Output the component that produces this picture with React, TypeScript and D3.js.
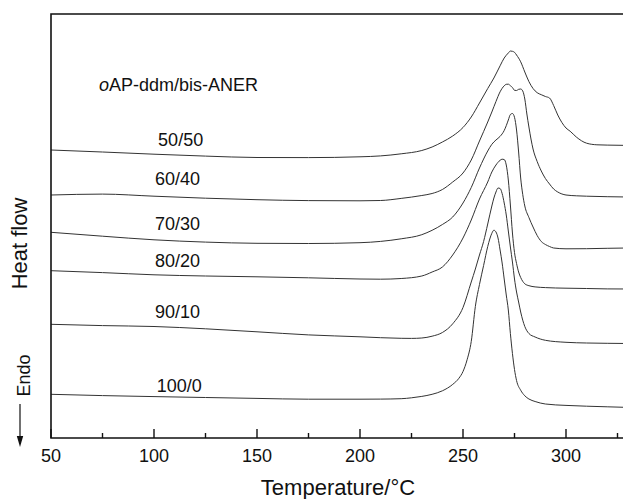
import React from "react";
import * as d3 from "d3";

// Temperature (°C) vs. heat flow (arbitrary units, exo up)
const curve50_50: [number, number][] = [
  [50, 288], [75, 286], [100, 283.8], [125, 281.9], [150, 280.5], [175, 280.4], [200, 281.2],
  [210, 282.1], [220, 284.2], [230, 287.5], [235, 291], [240, 296], [245, 302], [250, 310.5],
  [254, 321], [258, 335], [262, 349.5], [265, 360], [268, 372.2], [270, 380], [272, 385],
  [273, 387], [274, 386.7], [275, 385.7], [276, 383], [278, 376.2], [280, 366], [282, 356.4],
  [284, 349.5], [286, 345.3], [288, 343.3], [290, 341.5], [292, 340], [294, 332.5], [296, 323],
  [298, 315.5], [300, 310], [302, 306.8], [305, 301], [310, 294.8], [315, 293.2], [320, 292.9],
  [330, 292.6],
];
const curve60_40: [number, number][] = [
  [50, 243], [75, 243.9], [100, 241.8], [125, 239.8], [150, 238.3], [175, 237.4], [200, 237.2],
  [210, 237.5], [220, 239.6], [230, 242.5], [235, 244.5], [240, 248.5], [245, 256], [250, 265],
  [254, 278], [258, 297], [262, 316], [264, 326], [266, 336.5], [268, 346.2], [270, 352.2],
  [271, 353.7], [272, 353.8], [273, 352.3], [274, 350.5], [275, 347.7], [276, 347.5],
  [277, 348.7], [278, 349], [279, 347], [280, 339], [281, 324], [282, 311], [283, 299],
  [284, 289], [286, 276.5], [288, 267], [290, 259.5], [292, 254], [294, 249], [296, 246],
  [300, 243], [305, 242.2], [310, 241.8], [320, 241.3], [330, 241],
];
const curve70_30: [number, number][] = [
  [50, 205.7], [75, 201.8], [100, 198.2], [125, 195.9], [150, 194.7], [175, 194.5], [200, 195.3],
  [210, 196.6], [220, 199.2], [230, 203.3], [235, 207.7], [240, 213.5], [245, 221], [250, 235],
  [254, 250.5], [258, 270], [262, 287], [264, 293.7], [266, 298], [268, 301.6], [270, 307.5],
  [271, 312.3], [272, 318], [273, 323.5], [274, 324.5], [275, 320.7], [276, 308], [277, 286],
  [278, 260], [279, 243.5], [280, 232], [282, 220.5], [284, 211], [286, 202.5], [288, 196.5],
  [290, 193.5], [292, 191.5], [294, 190], [300, 189.2], [310, 189.3], [320, 189.7], [330, 190],
];
const curve80_20: [number, number][] = [
  [50, 167.3], [75, 165.4], [100, 163.2], [125, 162], [150, 161.2], [175, 160.2], [200, 159],
  [210, 158.8], [220, 159.5], [230, 162], [235, 166], [240, 171], [245, 183], [250, 200],
  [254, 218], [258, 239], [262, 256], [264, 266], [266, 273], [268, 277.7], [269, 278.8],
  [270, 278.5], [271, 273], [272, 258], [273, 233], [274, 205], [275, 185.5], [276, 174.5],
  [277, 166], [278, 160.5], [280, 154.2], [282, 152.3], [285, 151.1], [290, 150.4],
  [300, 149.8], [310, 149.5], [320, 149.1], [330, 149],
];
const curve90_10: [number, number][] = [
  [50, 113.7], [75, 112.4], [100, 111.5], [125, 109.2], [150, 106.2], [175, 103.1], [200, 101.2],
  [210, 100.3], [220, 99.7], [225, 99.6], [230, 100], [235, 101.8], [240, 105.5], [245, 114.2],
  [250, 130.5], [254, 156], [256, 169], [258, 183], [260, 196.5], [262, 214], [264, 232],
  [265, 240], [266, 246], [267, 250], [268, 249.5], [269, 244.5], [270, 235], [271, 223],
  [272, 207], [273, 191], [274, 176], [275, 159], [276, 146], [277, 136], [278, 126],
  [280, 111.5], [282, 104.5], [285, 101], [290, 97.7], [300, 95.7], [310, 95], [320, 94.7],
  [330, 94.5],
];
const curve100_0: [number, number][] = [
  [50, 43.7], [75, 42.4], [100, 41.4], [125, 40.5], [150, 39.6], [175, 38.8], [200, 38.8],
  [210, 38.9], [220, 39.3], [225, 40.2], [230, 41.6], [235, 43.7], [240, 47.2], [245, 53.6],
  [248, 59.7], [250, 66.5], [252, 78.3], [254, 96.5], [256, 131.6], [258, 153.5], [260, 172.5],
  [262, 191.5], [263, 199], [264, 204.7], [265, 207.8], [266, 206], [267, 200], [268, 188],
  [269, 175], [270, 159], [271, 143], [272, 128], [273, 104.5], [274, 84.5], [275, 68.5],
  [276, 57.5], [278, 47.8], [280, 42.2], [282, 39], [285, 36.5], [290, 34], [300, 32.6],
  [310, 31.8], [320, 31.2], [330, 30.6],
];

const seriesCurves = [curve50_50, curve60_40, curve70_30, curve80_20, curve90_10, curve100_0];
const seriesLabels = ["50/50", "60/40", "70/30", "80/20", "90/10", "100/0"];
// label anchor positions in data units [temperature, heat flow]
const labelTemps = [102, 100.5, 100.5, 100.5, 100.5, 101.3];
const labelFlows = [292, 252.7, 208, 171.3, 119.7, 46.3];

const majorTicks = [50, 100, 150, 200, 250, 300];
const minorTicks = [75, 125, 175, 225, 275, 325];
const xDomain: [number, number] = [50, 330];
const yDomain: [number, number] = [0, 424];

const W = 623;
const H = 499;
const font = "'Liberation Sans', Arial, Helvetica, sans-serif";

export default function App() {
  const left = 51;
  const top = 14;
  const bottom = 438;
  const right = left + (xDomain[1] - xDomain[0]) * 2.06;
  const x = d3.scaleLinear().domain(xDomain).range([left, right]);
  const y = d3.scaleLinear().domain(yDomain).range([bottom, top]);
  const line = d3
    .line<[number, number]>()
    .x((d) => x(d[0]))
    .y((d) => y(d[1]))
    .curve(d3.curveMonotoneX);

  return (
    <svg
      width={W}
      height={H}
      viewBox={`0 0 ${W} ${H}`}
      style={{ position: "absolute", left: 0, top: 0, background: "#fff", display: "block" }}
    >
      <rect x={0} y={0} width={W} height={H} fill="#fff" />
      {seriesCurves.map((c, i) => (
        <path key={i} d={line(c) || ""} fill="none" stroke="#333" strokeWidth={1} />
      ))}
      {/* frame */}
      <path
        d={`M${right},${top}H${left}V${bottom}H${right}`}
        fill="none"
        stroke="#111"
        strokeWidth={1.6}
      />
      {majorTicks.map((t) => (
        <line key={"M" + t} x1={x(t)} x2={x(t)} y1={bottom} y2={bottom - 9} stroke="#111" strokeWidth={1.4} />
      ))}
      {minorTicks.map((t) => (
        <line key={"m" + t} x1={x(t)} x2={x(t)} y1={bottom} y2={bottom - 5} stroke="#111" strokeWidth={1.4} />
      ))}
      {majorTicks.map((t) => (
        <text key={"l" + t} x={x(t)} y={462} textAnchor="middle" fontFamily={font} fontSize={18} fill="#111">
          {t}
        </text>
      ))}
      <text x={(left + 625) / 2} y={495} textAnchor="middle" fontFamily={font} fontSize={22} fill="#111">
        Temperature/°C
      </text>
      <text
        transform={`translate(26.5,243.5) rotate(-90)`}
        textAnchor="middle"
        fontFamily={font}
        fontSize={22}
        fill="#111"
      >
        Heat flow
      </text>
      <text
        transform={`translate(30,375.5) rotate(-90)`}
        textAnchor="middle"
        fontFamily={font}
        fontSize={18}
        fill="#111"
      >
        Endo
      </text>
      <line x1={20} x2={20} y1={404} y2={438} stroke="#111" strokeWidth={1.2} />
      <path d="M16.8,436 L23.2,436 L20,447 Z" fill="#111" />
      <text x={99} y={90.5} fontFamily={font} fontSize={18} fill="#111">
        <tspan fontStyle="italic">o</tspan>AP-ddm/bis-ANER
      </text>
      {seriesLabels.map((s, i) => (
        <text key={s} x={x(labelTemps[i])} y={y(labelFlows[i])} fontFamily={font} fontSize={18} fill="#111">
          {s}
        </text>
      ))}
    </svg>
  );
}
